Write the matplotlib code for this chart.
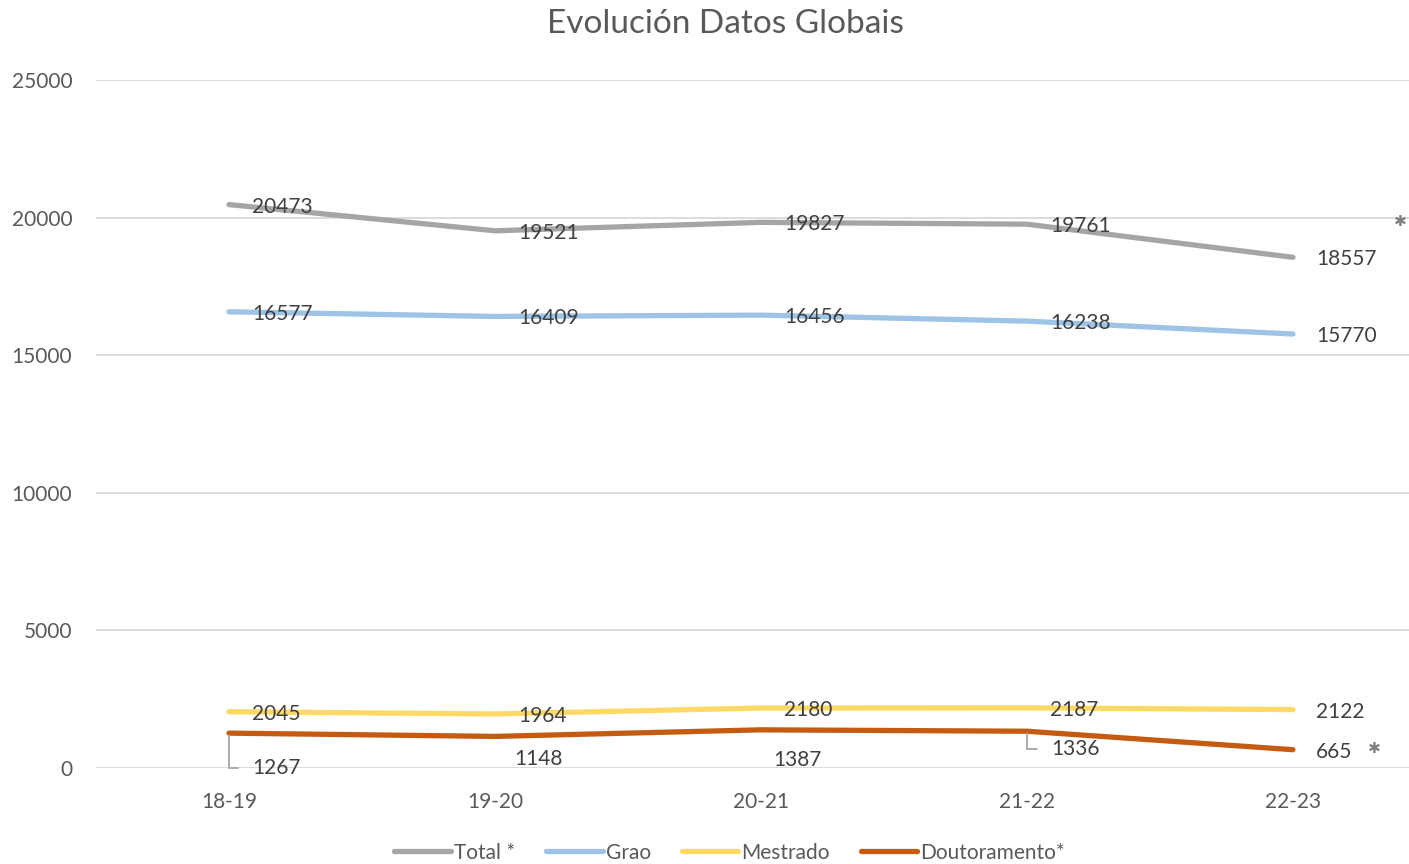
import matplotlib
matplotlib.use("Agg")
import matplotlib.pyplot as plt

categories = ["18-19", "19-20", "20-21", "21-22", "22-23"]
total = [20473, 19521, 19827, 19761, 18557]
grao = [16577, 16409, 16456, 16238, 15770]
mestrado = [2045, 1964, 2180, 2187, 2122]
doutoramento = [1267, 1148, 1387, 1336, 665]
series_names = ["Total *", "Grao", "Mestrado", "Doutoramento*"]
y_ticks = [0, 5000, 10000, 15000, 20000, 25000]

colors = ["#A5A5A5", "#9DC3E6", "#FFD966", "#C55A11"]
FONT = "Lato"
TXT = "#404040"

fig = plt.figure(figsize=(14.09, 8.64), dpi=100)
ax = fig.add_axes([96/1409, 96/864, 1314/1409, 688/864])

x = list(range(len(categories)))
all_series = [total, grao, mestrado, doutoramento]
for vals, name, c in zip(all_series, series_names, colors):
    ax.plot(x, vals, color=c, lw=3.8, solid_capstyle="round", label=name, zorder=3)

# label offsets in pixels (dx, dy); default right of point
default_off = (23, -2)
special = {
    (3, 0): (23, -35),
    (3, 1): (19, -23),
    (3, 2): (12, -30),
    (3, 3): (24, -18),
}
leaders = {(3, 0), (3, 3)}

for si, vals in enumerate(all_series):
    for i, v in enumerate(vals):
        dx, dy = special.get((si, i), default_off)
        kw = {}
        if (si, i) in leaders:
            kw["arrowprops"] = dict(arrowstyle="-", color="#A5A5A5", lw=1.3,
                                    connectionstyle="angle,angleA=0,angleB=90,rad=0",
                                    relpos=(0, 0.5), shrinkA=8, shrinkB=1)
        ax.annotate(f"{v}", xy=(i, v), xytext=(dx, dy), textcoords="offset pixels",
                    ha="left", va="center", fontsize=15, color=TXT,
                    family=FONT, zorder=4, **kw)

ax.set_xlim(-0.5, 4.44)
ax.set_ylim(0, 25000)
ax.set_yticks(y_ticks)
ax.set_yticklabels([str(t) for t in y_ticks])
ax.set_xticks(x)
ax.set_xticklabels(categories)
ax.grid(axis="y", color="#D9D9D9", lw=1.3, zorder=0)
ax.set_axisbelow(True)
for s in ax.spines.values():
    s.set_visible(False)
ax.tick_params(axis="both", length=0, labelsize=15, labelcolor="#595959")
ax.tick_params(axis="y", pad=17)
ax.tick_params(axis="x", pad=17)
for lab in ax.get_xticklabels() + ax.get_yticklabels():
    lab.set_family(FONT)

# decorative asterisks
ax.text(0.993, 0.795, "✱", transform=ax.transAxes, ha="center", va="center",
        fontsize=11, color="#7F7F7F", family="DejaVu Sans")
ax.text(0.973, 0.028, "✱", transform=ax.transAxes, ha="center", va="center",
        fontsize=11, color="#7F7F7F", family="DejaVu Sans")

fig.text(0.515, 0.972, "Evolución Datos Globais", ha="center", va="center",
         fontsize=24, color="#595959", family=FONT)

leg = fig.legend(loc="center", bbox_to_anchor=(0.518, 0.013), ncol=4, frameon=False,
                 handlelength=2.7, handletextpad=0.15, columnspacing=1.5,
                 prop={"family": FONT, "size": 15})
for t in leg.get_texts():
    t.set_color("#595959")

fig.savefig("out.png", dpi=100)
